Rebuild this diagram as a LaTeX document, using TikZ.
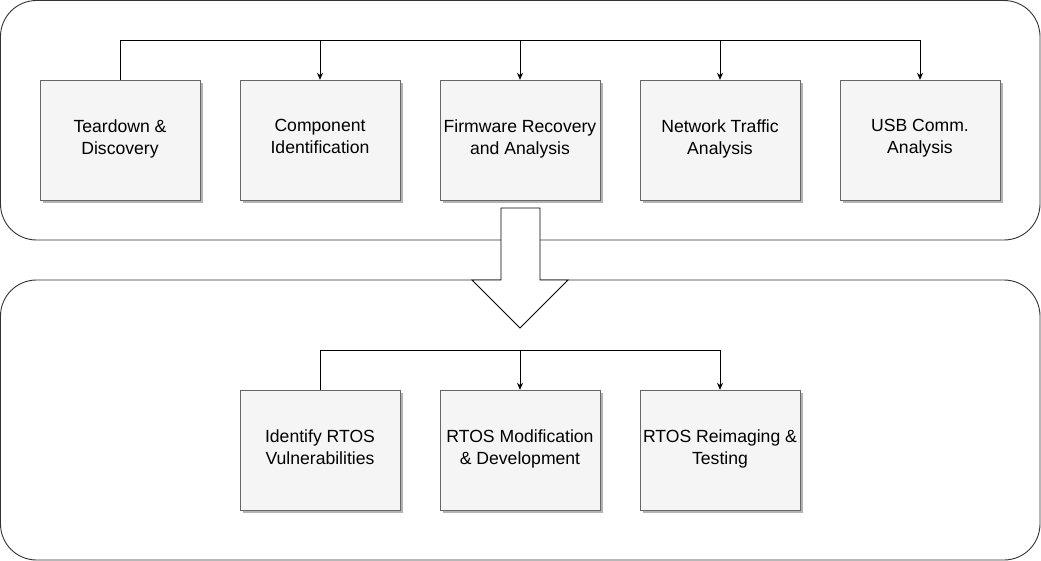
\documentclass[tikz,border=0pt]{standalone}
\usepackage{fontspec}
\setmainfont{Liberation Sans}
\usepackage{tikz}
\usetikzlibrary{arrows.meta,positioning,shadows}
\definecolor{boxfill}{HTML}{F5F5F5}
\definecolor{boxline}{HTML}{666666}
\definecolor{shadowgray}{HTML}{B3B3B3}

\begin{document}
\begin{tikzpicture}[x=1pt,y=-1pt,
    box/.style={draw=boxline,fill=boxfill,minimum width=160pt,minimum height=120pt,
      inner sep=0pt,align=center,font=\fontsize{17.6}{22}\selectfont,
      execute at begin node=\strut,execute at end node=\strut,
      drop shadow={shadow xshift=3pt,shadow yshift=-3pt,fill=shadowgray,opacity=1}},
    frame/.style={draw=black!80,line width=0.9pt,rounded corners=36pt},
    conn/.style={line width=0.8pt,-{Stealth[length=7pt,width=6pt]}}]
  \useasboundingbox (0,0) rectangle (1041,561);

  % stage frames
  \draw[frame] (0.5,0.5) rectangle (1040,240);
  \draw[frame] (0.5,280) rectangle (1040,560);

  % block arrow between stages
  \draw[fill=white,line width=0.8pt] (501,208) -- (540,208) -- (540,280) -- (568,280)
    -- (520,328) -- (472,280) -- (501,280) -- cycle;

  % top stage
  \node[box] (td) at (120,140) {Teardown \&\\Discovery};
  \node[box] (ci) at (320,140) {Component\\Identification};
  \node[box] (fr) at (520,140) {Firmware Recovery\\and Analysis};
  \node[box] (nt) at (720,140) {Network Traffic\\Analysis};
  \node[box] (usb) at (920,140) {USB Comm.\\Analysis};

  \coordinate (t0) at (120,40);
  \coordinate (t1) at (920,40);
  \draw[line width=0.8pt] (td.north) -- (t0) -- (t1);
  \foreach \n in {ci,fr,nt,usb}
    \draw[conn] (\n.north |- t0) -- (\n.north);

  % bottom stage
  \node[box] (vul) at (320,450) {Identify RTOS\\Vulnerabilities};
  \node[box] (mod) at (520,450) {RTOS Modification\\\& Development};
  \node[box] (img) at (720,450) {RTOS Reimaging \&\\Testing};

  \coordinate (b0) at (320,350);
  \coordinate (b1) at (720,350);
  \draw[line width=0.8pt] (vul.north) -- (b0) -- (b1);
  \foreach \n in {mod,img}
    \draw[conn] (\n.north |- b0) -- (\n.north);
\end{tikzpicture}
\end{document}
